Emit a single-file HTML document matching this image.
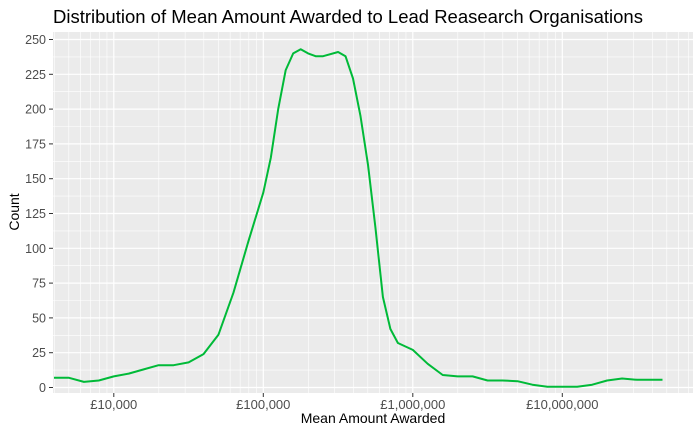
<!DOCTYPE html>
<html><head><meta charset="utf-8"><style>
body{margin:0;background:#fff;font-family:"Liberation Sans",Arial,sans-serif}
svg text{font-family:"Liberation Sans",Arial,sans-serif}
</style></head><body>
<svg id="c" width="700" height="432" xmlns="http://www.w3.org/2000/svg">
<text x="53" y="23" font-size="18.5" fill="#000">Distribution of Mean Amount Awarded to Lead Reasearch Organisations</text>
<rect x="53" y="32" width="640" height="361" fill="#ebebeb"/>
<g id="grid"></g>
<g id="axes"></g>
<path id="line" fill="none" stroke="#00ba38" stroke-width="2" stroke-linejoin="round"/>
<text x="373" y="423" font-size="14" text-anchor="middle" fill="#000">Mean Amount Awarded</text>
<text transform="translate(19,212) rotate(-90)" font-size="14" text-anchor="middle" fill="#000">Count</text>
</svg>
<script>
const logAmounts=[3.6,3.7,3.8,3.9,4.0,4.1,4.2,4.3,4.4,4.5,4.6,4.7,4.8,4.9,5.0,5.05,5.1,5.15,5.2,5.25,5.3,5.35,5.4,5.5,5.55,5.6,5.65,5.7,5.75,5.8,5.85,5.9,6.0,6.1,6.2,6.3,6.4,6.5,6.6,6.7,6.8,6.9,7.0,7.1,7.2,7.3,7.4,7.5,7.67];
const counts=[7,7,4,5,8,10,13,16,16,18,24,38,68,105,140,165,200,228,240,243,240,238,238,241,238,222,195,160,115,65,42,32,27,17,9,8,8,5,5,4.5,2,0.5,0.5,0.5,2,5,6.5,5.5,5.5];
const yTicks=[0,25,50,75,100,125,150,175,200,225,250];
const xTickExps=[4,5,6,7];
const xTickLabels=["£10,000","£100,000","£1,000,000","£10,000,000"];
const X=l=>113.8+(l-4)*149.5;
const Y=v=>387.5-v*1.392;
const ns="http://www.w3.org/2000/svg";
const grid=document.getElementById('grid'),axes=document.getElementById('axes');
function mk(tag,attrs,parent){const e=document.createElementNS(ns,tag);for(const k in attrs)e.setAttribute(k,attrs[k]);parent.appendChild(e);return e;}
for(let d=3;d<=7;d++)for(let m=2;m<=9;m++){const x=X(d+Math.log10(m));if(x<53||x>693)continue;
const l=mk('line',{x1:x,x2:x,y1:32,y2:393,stroke:'#fff','stroke-width':0.6},grid);

}
for(let i=0;i<yTicks.length-1;i++){const y=Y((yTicks[i]+yTicks[i+1])/2);
const l=mk('line',{x1:53,x2:693,y1:y,y2:y,stroke:'#fff','stroke-width':0.6},grid);

}
yTicks.forEach(v=>{const y=Y(v);
const l=mk('line',{x1:53,x2:693,y1:y,y2:y,stroke:'#fff','stroke-width':1.2},grid);


const t=mk('line',{x1:49,x2:53,y1:y,y2:y,stroke:'#333','stroke-width':1},axes);


const tx=mk('text',{x:46,y:y+4.5,'font-size':12.5,'text-anchor':'end',fill:'#4d4d4d'},axes);tx.textContent=v;

});
xTickExps.forEach((e,i)=>{const x=X(e);
const l=mk('line',{x1:x,x2:x,y1:32,y2:393,stroke:'#fff','stroke-width':1.2},grid);


const t=mk('line',{x1:x,x2:x,y1:393,y2:397,stroke:'#333','stroke-width':1},axes);


const tx=mk('text',{x:x,y:409,'font-size':13,'text-anchor':'middle',fill:'#4d4d4d'},axes);tx.textContent=xTickLabels[i];

});
document.getElementById('line').setAttribute('d',logAmounts.map((l,i)=>(i?'L':'M')+Math.max(53,X(l)).toFixed(1)+','+Y(counts[i]).toFixed(1)).join(''));
</script>
</body></html>
